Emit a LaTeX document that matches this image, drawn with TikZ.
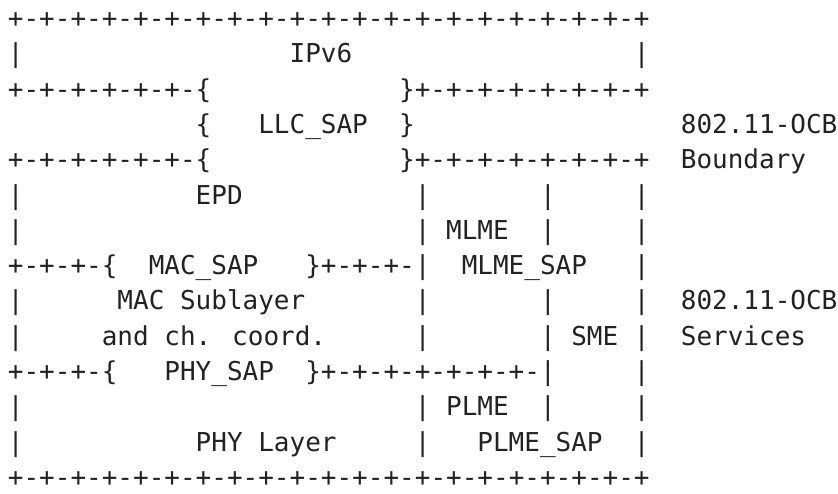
\documentclass[tikz,border=0pt]{standalone}
\usepackage{fontspec}
\newfontfamily\asciimono{DejaVu Sans Mono}
\definecolor{ink}{HTML}{222222}
\tikzset{asc/.style={anchor=base west, inner sep=0pt, outer sep=0pt, text=ink,
  text depth=0pt, font=\asciimono\fontsize{26}{26}\selectfont}}
\newcommand\seg[3]{\node[asc] (s#1c#2) at ({7.9+15.65*#2},{-27.5-35.3*(#1-1)}) {#3};}
\begin{document}
\begin{tikzpicture}[x=1pt,y=1pt]
\fill[white] (0,0) rectangle (838,-493);
\useasboundingbox (0,0) rectangle (838,-493);
% row 1
\seg{1}{0}{+-+-+-+-+-+-+-+-+-+-+-+-+-+-+-+-+-+-+-+-+}
% row 2
\seg{2}{0}{|}\seg{2}{18}{IPv6}\seg{2}{40}{|}
% row 3
\seg{3}{0}{+-+-+-+-+-+-\{}\seg{3}{25}{\}+-+-+-+-+-+-+-+}
% row 4
\seg{4}{12}{\{}\seg{4}{16}{LLC\_SAP}\seg{4}{25}{\}}\seg{4}{43}{802.11-OCB}
% row 5
\seg{5}{0}{+-+-+-+-+-+-\{}\seg{5}{25}{\}+-+-+-+-+-+-+-+}\seg{5}{43}{Boundary}
% row 6
\seg{6}{0}{|}\seg{6}{12}{EPD}\seg{6}{26}{|}\seg{6}{34}{|}\seg{6}{40}{|}
% row 7
\seg{7}{0}{|}\seg{7}{26}{|}\seg{7}{28}{MLME}\seg{7}{34}{|}\seg{7}{40}{|}
% row 8
\seg{8}{0}{+-+-+-\{}\seg{8}{9}{MAC\_SAP}\seg{8}{19}{\}+-+-+-|}\seg{8}{29}{MLME\_SAP}\seg{8}{40}{|}
% row 9
\seg{9}{0}{|}\seg{9}{7}{MAC Sublayer}\seg{9}{26}{|}\seg{9}{34}{|}\seg{9}{40}{|}\seg{9}{43}{802.11-OCB}
% row 10
\seg{10}{0}{|}\seg{10}{6}{and ch. coord.}\seg{10}{26}{|}\seg{10}{34}{|}\seg{10}{36}{SME}\seg{10}{40}{|}\seg{10}{43}{Services}
% row 11
\seg{11}{0}{+-+-+-\{}\seg{11}{10}{PHY\_SAP}\seg{11}{19}{\}+-+-+-+-+-+-+-|}\seg{11}{40}{|}
% row 12
\seg{12}{0}{|}\seg{12}{26}{|}\seg{12}{28}{PLME}\seg{12}{34}{|}\seg{12}{40}{|}
% row 13
\seg{13}{0}{|}\seg{13}{12}{PHY Layer}\seg{13}{26}{|}\seg{13}{30}{PLME\_SAP}\seg{13}{40}{|}
% row 14
\seg{14}{0}{+-+-+-+-+-+-+-+-+-+-+-+-+-+-+-+-+-+-+-+-+}
\end{tikzpicture}
\end{document}
